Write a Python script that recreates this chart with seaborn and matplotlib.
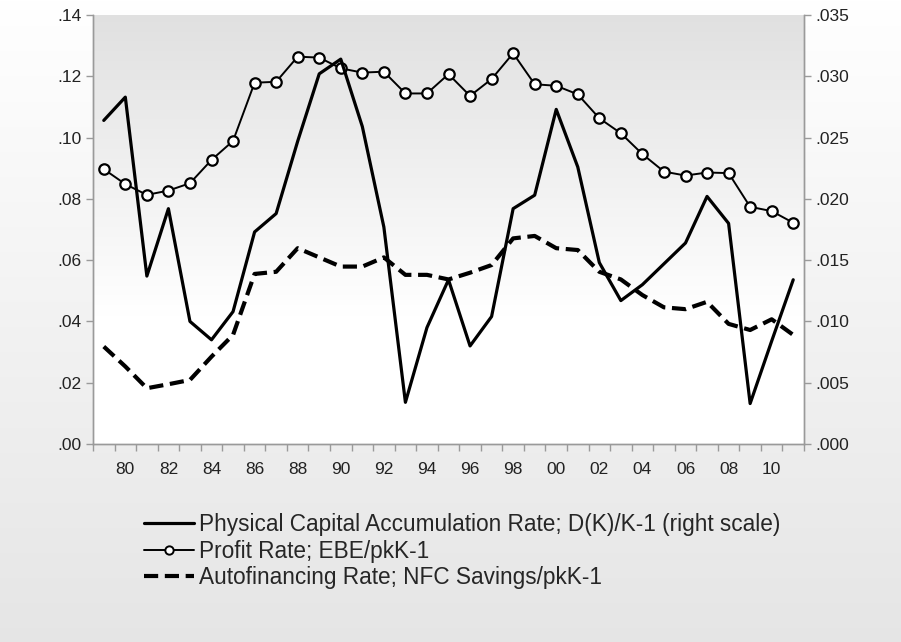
import matplotlib
matplotlib.use("Agg")
import matplotlib.pyplot as plt
import numpy as np
import pandas as pd
import seaborn as sns
from matplotlib.lines import Line2D

# Data (annual, 1979-2011)
years = list(range(1979, 2012))

# Physical capital accumulation rate, right scale
accumulation = [0.0264, 0.0283, 0.0137, 0.0192, 0.0100, 0.0085, 0.0108, 0.0173,
                0.0188, 0.0247, 0.0302, 0.0314, 0.0259, 0.0177, 0.0034, 0.0095,
                0.0134, 0.0080, 0.0104, 0.0192, 0.0203, 0.0273, 0.0226, 0.0148,
                0.0117, 0.0130, 0.0147, 0.0164, 0.0202, 0.0180, 0.0033, 0.0084,
                0.0134]

# Profit rate, left scale
profit = [0.0897, 0.0848, 0.0813, 0.0827, 0.0851, 0.0927, 0.0989, 0.1179,
          0.1182, 0.1264, 0.1261, 0.1226, 0.1212, 0.1215, 0.1144, 0.1144,
          0.1207, 0.1136, 0.1191, 0.1275, 0.1174, 0.1169, 0.1141, 0.1063,
          0.1014, 0.0946, 0.0889, 0.0876, 0.0886, 0.0884, 0.0774, 0.0760,
          0.0722]

# Autofinancing rate, left scale
autofinancing = [0.0318, 0.0253, 0.0182, 0.0195, 0.0209, 0.0285, 0.0356, 0.0555,
                 0.0562, 0.0639, 0.0609, 0.0579, 0.0579, 0.0609, 0.0552, 0.0552,
                 0.0537, 0.0559, 0.0584, 0.0671, 0.0679, 0.0639, 0.0633, 0.0562,
                 0.0537, 0.0486, 0.0446, 0.0440, 0.0464, 0.0392, 0.0372, 0.0407,
                 0.0356]

labels = ["Physical Capital Accumulation Rate; D(K)/K-1 (right scale)",
          "Profit Rate; EBE/pkK-1",
          "Autofinancing Rate; NFC Savings/pkK-1"]

left_ticks = [0.00, 0.02, 0.04, 0.06, 0.08, 0.10, 0.12, 0.14]
right_ticks = [0.000, 0.005, 0.010, 0.015, 0.020, 0.025, 0.030, 0.035]
year_ticks = list(range(1980, 2011, 2))

df = pd.DataFrame({"year": years, "accumulation": accumulation,
                   "profit": profit, "autofinancing": autofinancing})

sns.set_style("ticks")
plt.rcParams["font.family"] = ["Liberation Sans", "DejaVu Sans"]

fig = plt.figure(figsize=(9.01, 6.42), dpi=100)

# figure background gradient (white at top, light grey at bottom)
bg = fig.add_axes([0, 0, 1, 1])
g = np.linspace(1.0, 0.90, 256)[:, None, None] * np.ones((1, 1, 3))
bg.imshow(g, aspect="auto", extent=[0, 1, 0, 1])
bg.axis("off")

pos = [93 / 901, 1 - 444 / 642, (804 - 93) / 901, (444 - 15) / 642]

# plot area gradient (grey at top fading to white)
pg = fig.add_axes(pos)
t = np.linspace(0, 1, 256)
shade = np.clip(0.88 + 0.12 * t / 0.7, 0, 1)
pg.imshow(shade[:, None, None] * np.ones((1, 1, 3)), aspect="auto", extent=[0, 1, 0, 1])
pg.axis("off")

ax = fig.add_axes(pos)
ax.set_facecolor("none")
ax2 = ax.twinx()

sns.lineplot(data=df, x="year", y="accumulation", ax=ax2, color="black",
             linewidth=2.3, zorder=3)
sns.lineplot(data=df, x="year", y="autofinancing", ax=ax, color="black",
             linewidth=3.0, dashes=False, zorder=3)
ax.lines[-1].set_dashes((3.4, 1.6))
sns.lineplot(data=df, x="year", y="profit", ax=ax, color="black",
             linewidth=1.4, marker="o", markersize=7.5, markerfacecolor="white",
             markeredgecolor="black", markeredgewidth=1.6, zorder=4)

ax.set_xlim(1978.5, 2011.5)
ax.set_ylim(0, 0.14)
ax2.set_ylim(0, 0.035)

grey = "#9a9a9a"
ax.set_yticks(left_ticks)
ax.set_yticklabels(["." + f"{v:.2f}".split(".")[1] for v in left_ticks])
ax2.set_yticks(right_ticks)
ax2.set_yticklabels(["." + f"{v:.3f}".split(".")[1] for v in right_ticks])
ax.set_xticks(year_ticks)
ax.set_xticklabels([f"{y % 100:02d}" for y in year_ticks])
ax.set_xticks(np.arange(1978.5, 2012, 1), minor=True)

ax.tick_params(axis="x", which="major", length=0, pad=13, labelsize=12.5, labelcolor="#222222")
ax.tick_params(axis="x", which="minor", length=5, color=grey, width=1)
ax.tick_params(axis="y", length=5, color=grey, width=1, labelsize=12.5, labelcolor="#222222")
ax2.tick_params(axis="y", length=5, color=grey, width=1, labelsize=12.5, labelcolor="#222222")

for a in (ax, ax2):
    a.set_xlabel("")
    a.set_ylabel("")
    a.spines["top"].set_visible(False)
    for s in ("left", "right", "bottom"):
        a.spines[s].set_color(grey)
        a.spines[s].set_linewidth(1)

handles = [
    Line2D([], [], color="black", linewidth=2.3),
    Line2D([], [], color="black", linewidth=1.4, marker="o", markersize=6,
           markerfacecolor="white", markeredgewidth=1.4),
    Line2D([], [], color="black", linewidth=3.0, dashes=(3.4, 1.6)),
]
fig.legend(handles, labels, loc="upper left", bbox_to_anchor=(133 / 901, 1 - 502 / 642),
           frameon=False, fontsize=16.3, handlelength=2.2, handletextpad=0.2,
           labelspacing=0.15, borderpad=0)

fig.savefig("out.png", dpi=100)
